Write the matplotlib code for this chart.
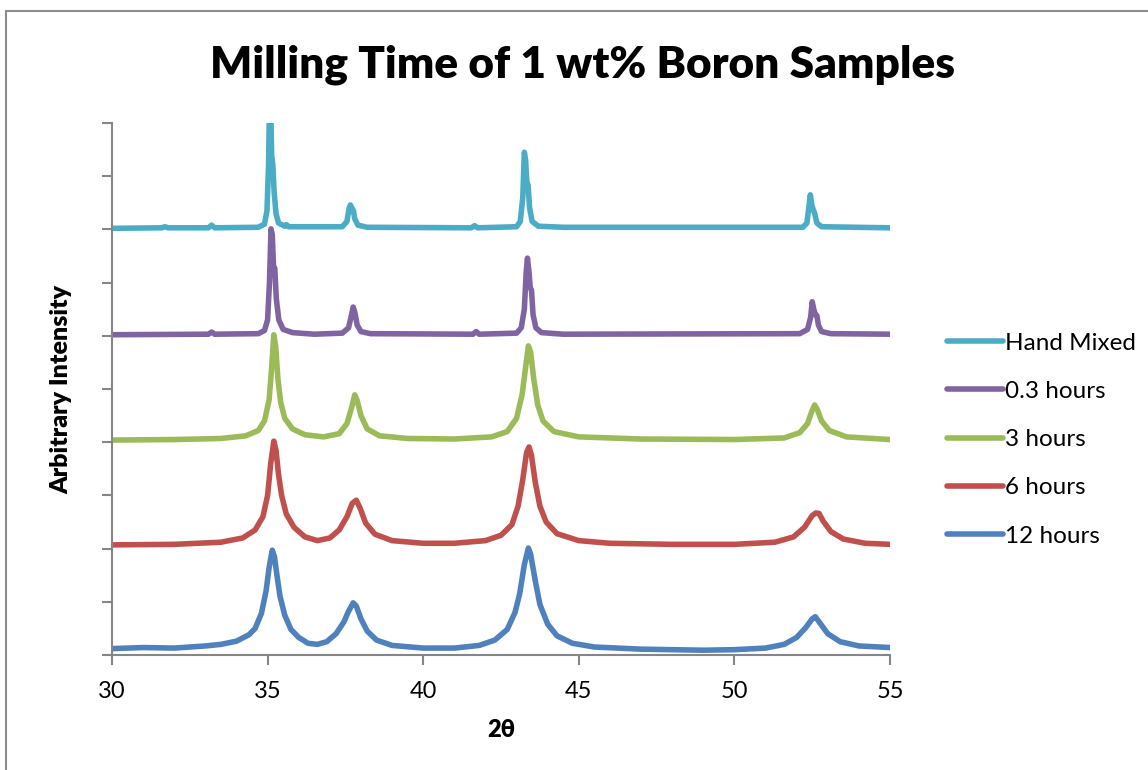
import matplotlib
matplotlib.use("Agg")
import matplotlib.pyplot as plt
from matplotlib.patches import Rectangle

plt.rcParams['font.family'] = ['Lato', 'DejaVu Sans']

# ---- data (2θ, displayed offset intensity, arbitrary units) ----
series_names = ["Hand Mixed", "0.3 hours", "3 hours", "6 hours", "12 hours"]
series_colors = ["#4BACC6", "#8064A2", "#9BBB59", "#C0504D", "#4F81BD"]

hand_x = [30, 31.6, 31.7, 31.8, 33.1, 33.2, 33.3, 34.7, 34.9, 34.98, 35.03, 35.06, 35.1, 35.13,
          35.17, 35.21, 35.27, 35.35, 35.55, 35.6, 35.68, 37.4, 37.55, 37.62, 37.66, 37.71, 37.76,
          37.8, 37.9, 38.2, 41.55, 41.65, 41.75, 43.0, 43.12, 43.2, 43.25, 43.29, 43.33, 43.37,
          43.42, 43.5, 43.7, 44.5, 52.2, 52.33, 52.4, 52.44, 52.49, 52.54, 52.58, 52.65, 52.8, 55]
hand_y = [8.02, 8.03, 8.05, 8.03, 8.03, 8.08, 8.03, 8.04, 8.10, 8.35, 9.20, 10.3, 10.3, 9.40,
          9.20, 8.70, 8.30, 8.12, 8.06, 8.09, 8.05, 8.05, 8.15, 8.40, 8.46, 8.40, 8.35,
          8.20, 8.08, 8.04, 8.03, 8.07, 8.03, 8.05, 8.15, 8.60, 9.45, 9.30, 8.90, 8.83,
          8.40, 8.15, 8.06, 8.04, 8.04, 8.12, 8.45, 8.65, 8.45, 8.36, 8.30, 8.12, 8.05, 8.03]

h03_x = [30, 33.1, 33.2, 33.3, 34.7, 34.9, 35.0, 35.06, 35.11, 35.15, 35.19, 35.23, 35.28, 35.36,
         35.5, 35.8, 36.5, 37.4, 37.6, 37.7, 37.75, 37.8, 37.88, 38.0, 38.3, 41.6, 41.7, 41.8,
         43.0, 43.15, 43.25, 43.31, 43.35, 43.4, 43.44, 43.48, 43.53, 43.62, 43.8, 44.5,
         52.1, 52.35, 52.45, 52.5, 52.55, 52.6, 52.65, 52.7, 52.8, 53.1, 55]
h03_y = [6.02, 6.03, 6.07, 6.03, 6.04, 6.10, 6.30, 7.00, 8.01, 7.90, 7.30, 7.27, 6.70, 6.30,
         6.12, 6.06, 6.03, 6.05, 6.15, 6.40, 6.54, 6.45, 6.20, 6.08, 6.04, 6.03, 6.08, 6.03,
         6.05, 6.15, 6.50, 7.20, 7.46, 7.20, 6.90, 6.86, 6.40, 6.15, 6.06, 6.03,
         6.04, 6.12, 6.35, 6.64, 6.50, 6.40, 6.38, 6.20, 6.08, 6.04, 6.03]

h3_x = [30, 32, 33.5, 34.3, 34.7, 34.9, 35.05, 35.13, 35.2, 35.26, 35.33, 35.42, 35.55, 35.8,
        36.2, 36.8, 37.3, 37.55, 37.7, 37.8, 37.88, 38.0, 38.2, 38.6, 39.5, 41, 42.2, 42.7,
        43.0, 43.18, 43.3, 43.38, 43.45, 43.55, 43.68, 43.85, 44.2, 45, 47, 50, 51.6, 52.1,
        52.35, 52.5, 52.58, 52.66, 52.8, 53.05, 53.6, 55]
h3_y = [4.04, 4.05, 4.07, 4.12, 4.22, 4.40, 4.80, 5.40, 6.02, 5.80, 5.20, 4.75, 4.45, 4.25,
        4.14, 4.10, 4.16, 4.35, 4.65, 4.89, 4.78, 4.50, 4.25, 4.12, 4.07, 4.06, 4.10, 4.20,
        4.45, 4.90, 5.45, 5.81, 5.70, 5.20, 4.70, 4.40, 4.20, 4.10, 4.06, 4.05, 4.08, 4.18,
        4.35, 4.60, 4.70, 4.62, 4.40, 4.22, 4.10, 4.05]

h6_x = [30, 32, 33.5, 34.2, 34.6, 34.85, 35.0, 35.1, 35.2, 35.27, 35.35, 35.45, 35.6, 35.85,
        36.2, 36.6, 37.0, 37.3, 37.55, 37.72, 37.85, 37.98, 38.15, 38.45, 39.0, 40, 41, 42,
        42.5, 42.85, 43.05, 43.2, 43.32, 43.4, 43.48, 43.6, 43.75, 43.95, 44.3, 45, 46, 48, 50,
        51.3, 51.9, 52.25, 52.5, 52.62, 52.72, 52.85, 53.1, 53.5, 54.2, 55]
h6_y = [2.07, 2.08, 2.12, 2.20, 2.35, 2.60, 3.00, 3.60, 4.02, 3.85, 3.40, 3.00, 2.65, 2.40,
        2.22, 2.15, 2.20, 2.35, 2.60, 2.85, 2.91, 2.75, 2.48, 2.27, 2.15, 2.10, 2.10, 2.15,
        2.25, 2.45, 2.80, 3.30, 3.80, 3.91, 3.75, 3.25, 2.80, 2.50, 2.28, 2.15, 2.10, 2.08, 2.08,
        2.12, 2.22, 2.40, 2.62, 2.67, 2.66, 2.52, 2.32, 2.18, 2.10, 2.08]

h12_x = [30, 31, 32, 33, 33.5, 34.0, 34.4, 34.6, 34.8, 34.95, 35.05, 35.15, 35.22, 35.3, 35.4,
         35.55, 35.75, 36.0, 36.3, 36.6, 36.9, 37.2, 37.45, 37.6, 37.75, 37.85, 38.0, 38.2, 38.5,
         39.0, 40, 41, 41.8, 42.3, 42.7, 42.95, 43.1, 43.25, 43.38, 43.45, 43.6, 43.75, 44.0,
         44.3, 44.8, 45.5, 47, 49, 50, 51, 51.6, 52.0, 52.3, 52.5, 52.6, 52.75, 53.0, 53.4, 54, 55]
h12_y = [0.12, 0.14, 0.13, 0.17, 0.20, 0.26, 0.38, 0.50, 0.78, 1.20, 1.65, 1.97, 1.85, 1.50, 1.10,
         0.75, 0.48, 0.33, 0.22, 0.20, 0.25, 0.40, 0.62, 0.82, 0.98, 0.92, 0.68, 0.45, 0.28,
         0.18, 0.13, 0.13, 0.18, 0.28, 0.48, 0.80, 1.15, 1.70, 2.01, 1.90, 1.40, 0.95, 0.58,
         0.36, 0.22, 0.15, 0.11, 0.09, 0.10, 0.13, 0.20, 0.33, 0.52, 0.68, 0.72, 0.60, 0.40, 0.25, 0.17, 0.14]

series_x = [hand_x, h03_x, h3_x, h6_x, h12_x]
series_y = [hand_y, h03_y, h3_y, h6_y, h12_y]

x_ticks = [30, 35, 40, 45, 50, 55]
y_ticks = list(range(0, 11))

# ---- figure ----
W, H = 1148, 770
fig = plt.figure(figsize=(W / 100, H / 100), dpi=100)
fig.patch.set_facecolor("white")

# outer chart frame (only top and left edges visible)
fig.add_artist(Rectangle((6 / W, -0.5), 2.0, 1.5 - 11 / H, transform=fig.transFigure,
                         fill=False, edgecolor="#8c8c8c", linewidth=1.5))

ax = fig.add_axes([112 / W, 1 - 655 / H, (890 - 112) / W, (655 - 123) / H])
for name, color, xs, ys in zip(series_names, series_colors, series_x, series_y):
    ax.plot(xs, ys, color=color, linewidth=4.0, label=name,
            solid_joinstyle="round", solid_capstyle="round")

ax.set_xlim(30, 55)
ax.set_ylim(0, 10)
ax.set_xticks(x_ticks)
ax.set_xticklabels([str(t) for t in x_ticks], fontsize=17)
ax.set_yticks(y_ticks)
ax.set_yticklabels([])
for s in ["top", "right"]:
    ax.spines[s].set_visible(False)
for s in ["left", "bottom"]:
    ax.spines[s].set_color("#868686")
    ax.spines[s].set_linewidth(1.5)
ax.tick_params(axis="both", direction="out", length=7, width=1.5, color="#868686")
ax.tick_params(axis="x", pad=12)

ax.set_xlabel("2θ", fontsize=17, fontweight="heavy", labelpad=12)
ax.set_ylabel("Arbitrary Intensity", fontsize=18, fontweight="heavy", labelpad=18)

fig.text(583 / W, 1 - 65 / H, "Milling Time of 1 wt% Boron Samples", fontsize=31.8,
         fontweight="heavy", ha="center", va="center")

leg = fig.legend(loc="upper left", bbox_to_anchor=(937 / W, 1 - 323 / H), frameon=False,
                 fontsize=17.5, handlelength=2.3, handletextpad=0.1, labelspacing=1.12,
                 borderaxespad=0)

fig.savefig("out.png", dpi=100, facecolor="white")
